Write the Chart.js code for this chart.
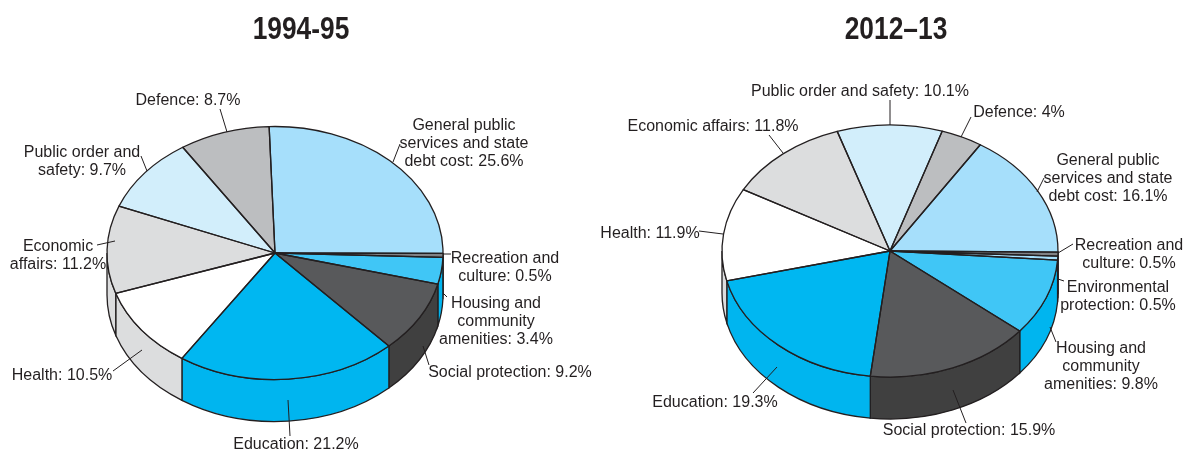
<!DOCTYPE html>
<html>
<head>
<meta charset="utf-8">
<title>Government expenditure shares</title>
<script src="https://cdn.jsdelivr.net/npm/chart.js@4"></script>
<style>
  html, body { margin: 0; padding: 0; background: #fff; }
  #page { position: relative; width: 1186px; height: 450px; overflow: hidden; }
  canvas { position: absolute; top: 0; }
  #left { left: 0; }
  #right { left: 593px; }
  .title {
    position: absolute; top: 9px; width: 200px; text-align: center;
    font: bold 31px "Liberation Sans", sans-serif;
    line-height: 40px; color: #231f20;
    transform: scaleX(0.85);
  }
</style>
</head>
<body>
<div id="page">
  <canvas id="left" width="593" height="450"></canvas>
  <canvas id="right" width="593" height="450"></canvas>
  <div class="title" style="left:201px">1994-95</div>
  <div class="title" style="left:796px">2012–13</div>
</div>

<script>
const categories1994 = ['General public services and state debt cost', 'Recreation and culture', 'Housing and community amenities', 'Social protection', 'Education', 'Health', 'Economic affairs', 'Public order and safety', 'Defence']
const values1994 = [25.6, 0.5, 3.4, 9.2, 21.2, 10.5, 11.2, 9.7, 8.7]
const topColors1994 = ['#a6dffb', '#808285', '#40c6f6', '#58595b', '#00b7f1', '#ffffff', '#dcddde', '#d2eefb', '#bcbec0']
const sideColors1994 = ['#a6dffb', '#58595b', '#00b5ef', '#404040', '#00b5ef', '#dcddde', '#dcddde', '#d2eefb', '#bcbec0']
const lines1994 = [['General public', 'services and state', 'debt cost'], ['Recreation and', 'culture'], ['Housing and', 'community', 'amenities'], ['Social protection'], ['Education'], ['Health'], ['Economic', 'affairs'], ['Public order and', 'safety'], ['Defence']]

const categories2012 = ['General public services and state debt cost', 'Recreation and culture', 'Environmental protection', 'Housing and community amenities', 'Social protection', 'Education', 'Health', 'Economic affairs', 'Public order and safety', 'Defence']
const values2012 = [16.1, 0.5, 0.5, 9.8, 15.9, 19.3, 11.9, 11.8, 10.1, 4]
const topColors2012 = ['#a6dffb', '#808285', '#a6dffb', '#40c6f6', '#58595b', '#00b7f1', '#ffffff', '#dcddde', '#d2eefb', '#bcbec0']
const sideColors2012 = ['#a6dffb', '#404040', '#404040', '#00b5ef', '#404040', '#00b5ef', '#dcddde', '#dcddde', '#d2eefb', '#bcbec0']
const lines2012 = [['General public', 'services and state', 'debt cost'], ['Recreation and', 'culture'], ['Environmental', 'protection'], ['Housing and', 'community', 'amenities'], ['Social protection'], ['Education'], ['Health'], ['Economic affairs'], ['Public order and safety'], ['Defence']]

// label centre [x, y of first line] and leader line [x1, y1, x2, y2], page coordinates
const labelPos1994 = [[464, 126], [505, 259], [496, 304], [510, 373], [296, 445], [62, 376], [58, 247], [82, 153], [188, 101]]
const leaders1994 = [[400, 144, 393, 162], [444, 254, 451, 254], [443, 293, 447, 297], [423, 346, 429, 365], [288, 400, 290, 436], [142, 350, 113, 371], [115, 241, 97, 245], [141, 156, 147, 171], [220, 109, 227, 132]]
const labelPos2012 = [[1108, 161], [1129, 246], [1118, 288], [1101, 349], [969, 431], [715, 403], [650, 234], [713, 127], [860, 92], [1019, 113]]
const leaders2012 = [[1044, 178, 1037, 192], [1073, 244, 1058, 253], [1058, 279, 1064, 281], [1050, 327, 1056, 342], [953, 390, 966, 423], [777, 367, 753, 393], [699, 231, 723, 234], [769, 135, 783, 153], [890, 100, 890, 125], [971, 117, 961, 137]]

const INK = '#231f20'
const LINE_HEIGHT = 18

function pieChart(id, pageLeft, setup) {
  const { cx, cy, r, squash, depth, rotation } = setup

  // sides of the slab, only the part facing the viewer (canvas angles 0..PI)
  const drawSides = (chart) => {
    const ctx = chart.ctx
    chart.getDatasetMeta(0).data.forEach((arc, i) => {
      const { x, y, startAngle, endAngle, outerRadius } = arc
      const ry = outerRadius * squash
      for (const shift of [0, Math.PI * 2]) {
        const a0 = Math.max(startAngle - shift, 0)
        const a1 = Math.min(endAngle - shift, Math.PI)
        if (a1 <= a0) continue
        ctx.beginPath()
        ctx.ellipse(x, y, outerRadius, ry, 0, a0, a1)
        ctx.ellipse(x, y + depth, outerRadius, ry, 0, a1, a0, true)
        ctx.closePath()
        ctx.fillStyle = setup.sideColors[i]
        ctx.fill()
        ctx.strokeStyle = INK
        ctx.lineWidth = 1.3
        ctx.stroke()
      }
    })
  }

  // outlines are traced squashed but stroked unsquashed so the pen width stays even
  const drawOutlines = (chart) => {
    const ctx = chart.ctx
    chart.getDatasetMeta(0).data.forEach((arc) => {
      const { x, y, startAngle, endAngle, outerRadius } = arc
      const ry = outerRadius * squash
      ctx.beginPath()
      ctx.moveTo(x, y)
      ctx.ellipse(x, y, outerRadius, ry, 0, startAngle, endAngle)
      ctx.closePath()
      ctx.strokeStyle = INK
      ctx.lineWidth = 1.3
      ctx.lineJoin = 'round'
      ctx.stroke()
    })
  }

  const drawLabels = (chart) => {
    const ctx = chart.ctx
    ctx.save()
    ctx.strokeStyle = INK
    ctx.lineWidth = 1
    setup.leaders.forEach(([x1, y1, x2, y2]) => {
      ctx.beginPath()
      ctx.moveTo(x1 - pageLeft, y1)
      ctx.lineTo(x2 - pageLeft, y2)
      ctx.stroke()
    })
    ctx.fillStyle = INK
    ctx.font = '16px "Liberation Sans", Arial, sans-serif'
    ctx.textAlign = 'center'
    ctx.textBaseline = 'middle'
    setup.lines.forEach((lines, i) => {
      const [px, py] = setup.labelPos[i]
      lines.forEach((line, j) => {
        const text = j === lines.length - 1 ? `${line}: ${setup.values[i]}%` : line
        ctx.fillText(text, px - pageLeft, py + j * LINE_HEIGHT)
      })
    })
    ctx.restore()
  }

  const pie3d = {
    id: 'pie3d',
    beforeDatasetsDraw(chart) {
      drawSides(chart)
      // library draws the top face through this flattening
      const ctx = chart.ctx
      ctx.save()
      ctx.translate(0, cy)
      ctx.scale(1, squash)
      ctx.translate(0, -cy)
    },
    afterDatasetsDraw(chart) {
      chart.ctx.restore()
      drawOutlines(chart)
      drawLabels(chart)
    }
  }

  return new Chart(document.getElementById(id), {
    type: 'pie',
    data: {
      labels: setup.categories,
      datasets: [{
        data: setup.values,
        backgroundColor: setup.topColors,
        borderWidth: 0,
        hoverBorderWidth: 0
      }]
    },
    options: {
      responsive: false,
      animation: false,
      rotation: rotation,
      layout: {
        padding: { left: cx - r, right: 593 - cx - r, top: cy - r, bottom: 450 - cy - r }
      },
      plugins: {
        legend: { display: false },
        tooltip: { enabled: false }
      }
    },
    plugins: [pie3d]
  })
}

pieChart('left', 0, {
  cx: 275, cy: 253, r: 168, squash: 0.753, depth: 42, rotation: -2,
  categories: categories1994, values: values1994, topColors: topColors1994, sideColors: sideColors1994,
  lines: lines1994, labelPos: labelPos1994, leaders: leaders1994
})

pieChart('right', 593, {
  cx: 297, cy: 251, r: 168, squash: 0.75, depth: 42, rotation: 32.5,
  categories: categories2012, values: values2012, topColors: topColors2012, sideColors: sideColors2012,
  lines: lines2012, labelPos: labelPos2012, leaders: leaders2012
})
</script>
</body>
</html>
